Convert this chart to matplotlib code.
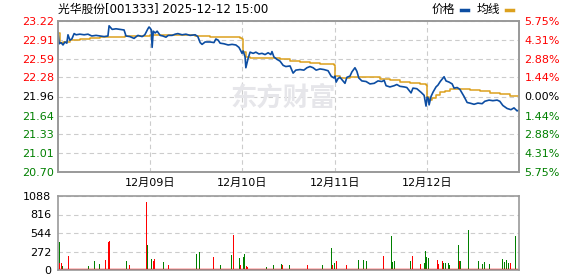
import matplotlib
matplotlib.use("Agg")
from matplotlib import pyplot as plt
import numpy as np

plt.rcParams['font.family'] = ['DejaVu Sans', 'Noto Sans CJK SC']

# intraday minute index (5 sessions x 240 minutes) and prices
price_min = [0, 3, 8, 13, 18, 23, 26, 31, 36, 42, 47, 57, 68, 78, 88, 99, 109, 120, 130, 133,
             141, 151, 161, 172, 177, 187, 198, 208, 219, 226, 234, 237,
             240, 243, 245, 248, 253, 258, 266, 273, 281, 287, 297, 305, 312, 323, 333, 344,
             357, 364, 370, 375, 383, 396, 406, 411, 417, 422, 432, 443, 453, 463, 471, 476, 479,
             482, 487, 489, 495, 500, 508, 515, 523, 531, 539, 547, 554, 557, 562, 570, 578,
             586, 593, 604, 612, 619, 630, 640, 648, 656, 664, 672, 682, 692, 703, 711, 718,
             721, 724, 729, 734, 747, 752, 760, 765, 773, 778, 783, 791, 802, 812, 823, 833,
             843, 849, 854, 864, 875, 882, 890, 901, 908, 919, 924, 934, 945, 953, 958,
             961, 964, 966, 971, 976, 984, 989, 995, 1000, 1005, 1010, 1018, 1026, 1031, 1039,
             1046, 1057, 1065, 1072, 1083, 1093, 1104, 1111, 1122, 1132, 1143, 1150, 1158,
             1169, 1179, 1187, 1195, 1199]
price = [23.03, 22.84, 22.86, 22.82, 22.87, 22.85, 22.99, 22.90, 22.92, 23.01, 22.99, 23.00,
         22.99, 23.00, 22.97, 22.98, 22.97, 22.96, 22.97, 23.14, 23.08, 23.09, 23.08, 23.07,
         22.97, 22.96, 22.93, 22.98, 22.96, 22.99, 23.09, 23.12,
         23.10, 23.07, 22.78, 23.05, 23.02, 23.05, 22.98, 22.97, 22.95, 22.98, 22.98, 23.00,
         23.01, 22.99, 23.00, 22.98, 22.99, 22.96, 22.86, 22.83, 22.87, 22.87, 22.86, 22.92,
         22.90, 22.85, 22.84, 22.82, 22.83, 22.82, 22.78, 22.72, 22.68,
         22.72, 22.62, 22.44, 22.60, 22.70, 22.68, 22.70, 22.67, 22.68, 22.66, 22.69, 22.66,
         22.71, 22.62, 22.58, 22.55, 22.48, 22.46, 22.47, 22.35, 22.40, 22.41, 22.40, 22.44,
         22.46, 22.44, 22.40, 22.42, 22.41, 22.39, 22.30, 22.27,
         22.30, 22.20, 22.26, 22.28, 22.18, 22.28, 22.30, 22.37, 22.44, 22.38, 22.27, 22.22,
         22.21, 22.17, 22.18, 22.22, 22.21, 22.23, 22.14, 22.12, 22.14, 22.16, 22.13, 22.12,
         22.11, 22.02, 22.10, 22.09, 22.03, 21.98, 21.80,
         21.95, 21.93, 21.82, 21.96, 22.03, 22.12, 22.15, 22.21, 22.25, 22.29, 22.22, 22.20,
         22.17, 22.10, 22.11, 22.08, 21.96, 21.86, 21.85, 21.83, 21.85, 21.84, 21.88, 21.90,
         21.89, 21.90, 21.88, 21.81, 21.76, 21.74, 21.77, 21.72, 21.73]

avg_min = [0, 5, 13, 31, 57, 83, 109, 135, 174, 213, 239,
           253, 305, 357, 396, 435, 474, 479,
           482, 489, 500, 526, 552, 578, 604, 630, 656, 682, 718,
           721, 734, 760, 786, 812, 838, 864, 890, 916, 942, 958,
           961, 966, 974, 984, 995, 1008, 1021, 1046, 1072, 1098, 1124, 1150, 1177, 1199]
avg_price = [23.02, 22.85, 22.87, 22.90, 22.92, 22.94, 22.95, 22.96, 22.97, 22.97, 22.98,
             22.98, 22.98, 22.97, 22.96, 22.95, 22.93, 22.92,
             22.70, 22.62, 22.60, 22.60, 22.60, 22.58, 22.56, 22.54, 22.52, 22.51, 22.49,
             22.30, 22.27, 22.28, 22.29, 22.28, 22.26, 22.23, 22.21, 22.19, 22.17, 22.16,
             21.95, 21.90, 21.93, 21.98, 22.03, 22.06, 22.09, 22.09, 22.07, 22.05, 22.02,
             22.00, 21.97, 21.95]

# volume spikes (minute, volume, 1 = up/red, 0 = down/green)
vol_min = [3, 4, 9, 12, 27, 79, 95, 109, 123, 132, 135, 138, 179, 182, 187, 195,
           231, 233, 234, 237, 244, 248, 250, 252, 274, 287, 346, 361, 368, 393, 404, 422,
           451, 456, 472, 476, 479, 482, 485, 490, 494, 543, 560, 582, 585, 601,
           603, 612, 649, 688, 711, 714, 716, 719, 721, 724, 742, 751, 782, 795, 799, 803,
           847, 868, 871, 875, 917, 922, 943, 950, 954, 957, 960, 964, 987, 991, 1001, 1004,
           1008, 1016, 1020, 1042, 1045, 1048, 1057, 1068, 1094, 1104, 1109, 1111, 1124,
           1157, 1163, 1166, 1168, 1172, 1177, 1190, 1192]
vol = [407, 98, 98, 59, 206, 59, 137, 88, 147, 407, 426, 137, 137, 108, 74, 59,
       1000, 368, 617, 108, 162, 137, 147, 162, 118, 69, 59, 235, 265, 78, 191, 69,
       221, 515, 176, 78, 74, 186, 235, 59, 49, 39, 69, 88, 69, 69,
       69, 60, 69, 69, 319, 69, 132, 108, 123, 132, 245, 74, 147, 147, 118, 132,
       206, 500, 118, 132, 132, 206, 88, 294, 98, 279, 196, 181, 147, 93, 132, 108,
       98, 98, 74, 368, 132, 132, 98, 588, 132, 88, 69, 118, 88,
       162, 123, 132, 147, 108, 98, 500, 69]
vol_up = [0, 1, 1, 0, 1, 0, 0, 0, 1, 1, 1, 0, 0, 0, 1, 0,
          1, 0, 1, 0, 0, 1, 1, 1, 0, 1, 0, 0, 0, 1, 1, 0,
          0, 1, 0, 1, 0, 0, 0, 1, 1, 0, 0, 0, 1, 0,
          0, 0, 1, 0, 0, 1, 1, 0, 0, 1, 0, 1, 0, 0, 1, 0,
          1, 0, 0, 0, 0, 1, 1, 0, 0, 0, 0, 0, 1, 1, 1, 0,
          0, 0, 0, 0, 1, 0, 0, 0, 0, 0, 1,
          0, 0, 0, 0, 0, 0, 0, 1]

pre_close = 21.96
price_ticks = [23.22, 22.91, 22.59, 22.28, 21.96, 21.64, 21.33, 21.01, 20.70]
pct_labels = ["5.75%", "4.31%", "2.88%", "1.44%", "0.00%", "1.44%", "2.88%", "4.31%", "5.75%"]
day_pos = [240, 480, 720, 960]
day_labels = ["12月09日", "12月10日", "12月11日", "12月12日"]
vol_ticks = [0, 272, 544, 816, 1088]

blue = '#0c4da2'
gold = '#dca11e'
red = '#ff0000'
green = '#008000'
edge = '#999999'
grid_c = '#cccccc'

fig = plt.figure(figsize=(5.78, 2.76), dpi=100)
ax = fig.add_axes([58 / 578, 1 - 172 / 276, 461 / 578, 151 / 276])
axv = fig.add_axes([58 / 578, 1 - 270 / 276, 461 / 578, 74 / 276])

# watermark
fig.text(0.49, 0.645, "东方财富", fontsize=19, fontweight='bold', color='#e6e6ea',
         ha='center', va='center', family=['Noto Sans CJK SC'], zorder=0)

ax.plot(avg_min, avg_price, color=gold, lw=1.1, drawstyle='steps-post', zorder=3)
ax.plot(price_min, price, color=blue, lw=1.2, zorder=4)
ax.set_xlim(0, 1200)
ax.set_ylim(20.70, 23.22)
ax.set_yticks(price_ticks)
ax.set_yticklabels(["%.2f" % p for p in price_ticks], fontsize=8)
for lab, p in zip(ax.get_yticklabels(), price_ticks):
    lab.set_color(red if p > pre_close + 0.001 else ('black' if abs(p - pre_close) < 0.001 else green))
ax.set_xticks(day_pos)
ax.set_xticklabels(day_labels, fontsize=8)
ax.tick_params(length=0, pad=3)
ax.tick_params(axis='x', pad=4)
ax.grid(True, ls=(0, (4, 3)), color=grid_c, lw=0.8)
ax.patch.set_alpha(0)

axr = ax.twinx()
axr.set_ylim(20.70, 23.22)
axr.set_yticks(price_ticks)
axr.set_yticklabels(pct_labels, fontsize=8)
for lab, p in zip(axr.get_yticklabels(), price_ticks):
    lab.set_color(red if p > pre_close + 0.001 else ('black' if abs(p - pre_close) < 0.001 else green))
axr.tick_params(length=0, pad=4)
for a in (ax, axr, axv):
    for s in a.spines.values():
        s.set_color(edge)
        s.set_linewidth(1.2)

colors = [red if u else green for u in vol_up]
axv.bar(vol_min, vol, width=2.0, color=colors, linewidth=0)
axv.axhline(0, color=red, lw=2.5, zorder=1)
axv.set_xlim(0, 1200)
axv.set_ylim(0, 1088)
axv.set_yticks(vol_ticks)
axv.set_yticklabels([str(v) for v in vol_ticks], fontsize=8)
axv.set_xticks([])
axv.tick_params(length=0, pad=5)
axv.yaxis.grid(True, ls=(0, (4, 3)), color=grid_c, lw=0.8)
axv.set_axisbelow(True)

# title and legend
fig.text(58 / 578, 1 - 9 / 276, "光华股份[001333] 2025-12-12 15:00", fontsize=8.5,
         ha='left', va='center')
fig.text(432 / 578, 1 - 9 / 276, "价格", fontsize=8.5, ha='left', va='center')
fig.text(477 / 578, 1 - 9 / 276, "均线", fontsize=8.5, ha='left', va='center')
fig.add_artist(plt.Line2D([461 / 578, 468 / 578], [1 - 10 / 276] * 2, color=blue, lw=2.5))
fig.add_artist(plt.Line2D([506 / 578, 513 / 578], [1 - 10 / 276] * 2, color=gold, lw=2.5))

fig.savefig("out.png", dpi=100)
